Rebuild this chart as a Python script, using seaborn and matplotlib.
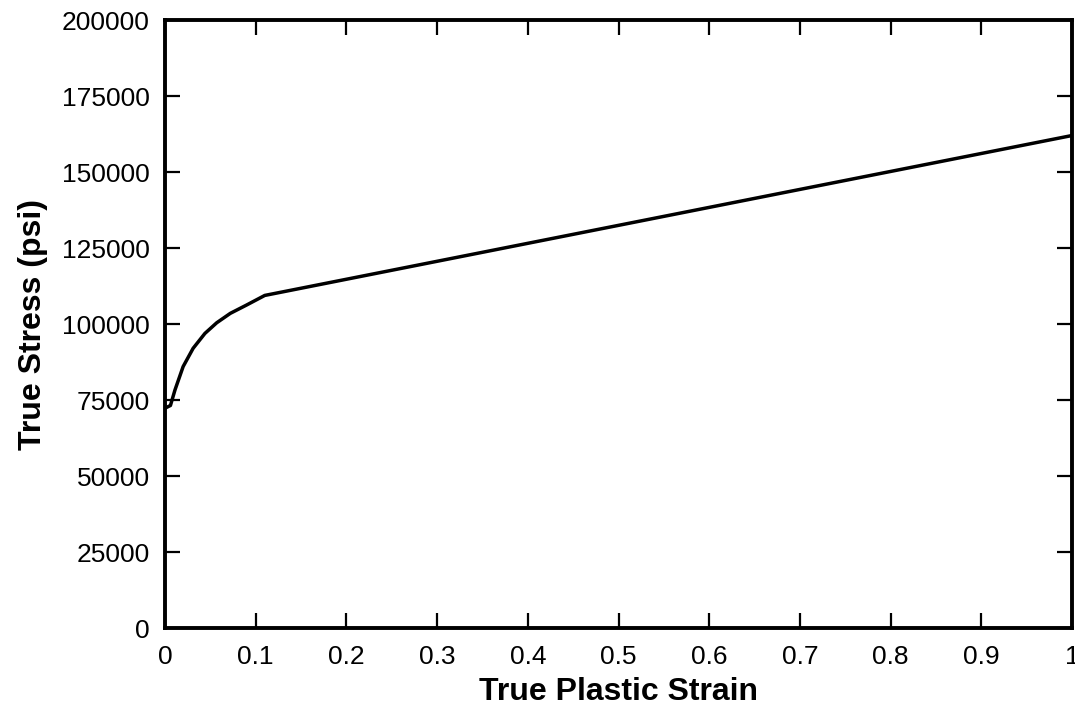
import pandas as pd
import matplotlib.pyplot as plt
import seaborn as sns

# True plastic strain vs true stress
strain = [0.0, 0.006, 0.011, 0.020, 0.031, 0.044, 0.057, 0.072, 0.090, 0.110, 1.0]
stress = [72300, 73200, 78300, 86000, 92000, 96900, 100400, 103500, 106250, 109400, 162000]

xticks = [0, 0.1, 0.2, 0.3, 0.4, 0.5, 0.6, 0.7, 0.8, 0.9, 1]
xticklabels = ["0", "0.1", "0.2", "0.3", "0.4", "0.5", "0.6", "0.7", "0.8", "0.9", "1"]
yticks = [0, 25000, 50000, 75000, 100000, 125000, 150000, 175000, 200000]

df = pd.DataFrame({"strain": strain, "stress": stress})

sns.set_style("ticks")
plt.rcParams['font.family'] = ['Liberation Sans', 'DejaVu Sans']

fig = plt.figure(figsize=(10.75, 7.06), dpi=100)
ax = fig.add_axes([165 / 1075, 1 - 628 / 706, (1072 - 165) / 1075, (628 - 20) / 706])

sns.lineplot(data=df, x="strain", y="stress", color="black", linewidth=2.5, ax=ax)

ax.set_xlim(0, 1)
ax.set_ylim(0, 200000)
ax.set_xticks(xticks)
ax.set_xticklabels(xticklabels)
ax.set_yticks(yticks)
ax.set_yticklabels([str(v) for v in yticks])

ax.tick_params(direction="in", length=11, width=1.6, top=True, right=True,
               labelsize=19, colors="black")
ax.tick_params(axis="x", pad=12)
ax.tick_params(axis="y", pad=11)
for s in ax.spines.values():
    s.set_linewidth(2.8)
    s.set_color("black")

ax.set_xlabel("True Plastic Strain", fontsize=23, fontweight="bold", labelpad=6, color="black")
ax.set_ylabel("True Stress (psi)", fontsize=23, fontweight="bold", labelpad=10, color="black")

fig.savefig("out.png", dpi=100)
